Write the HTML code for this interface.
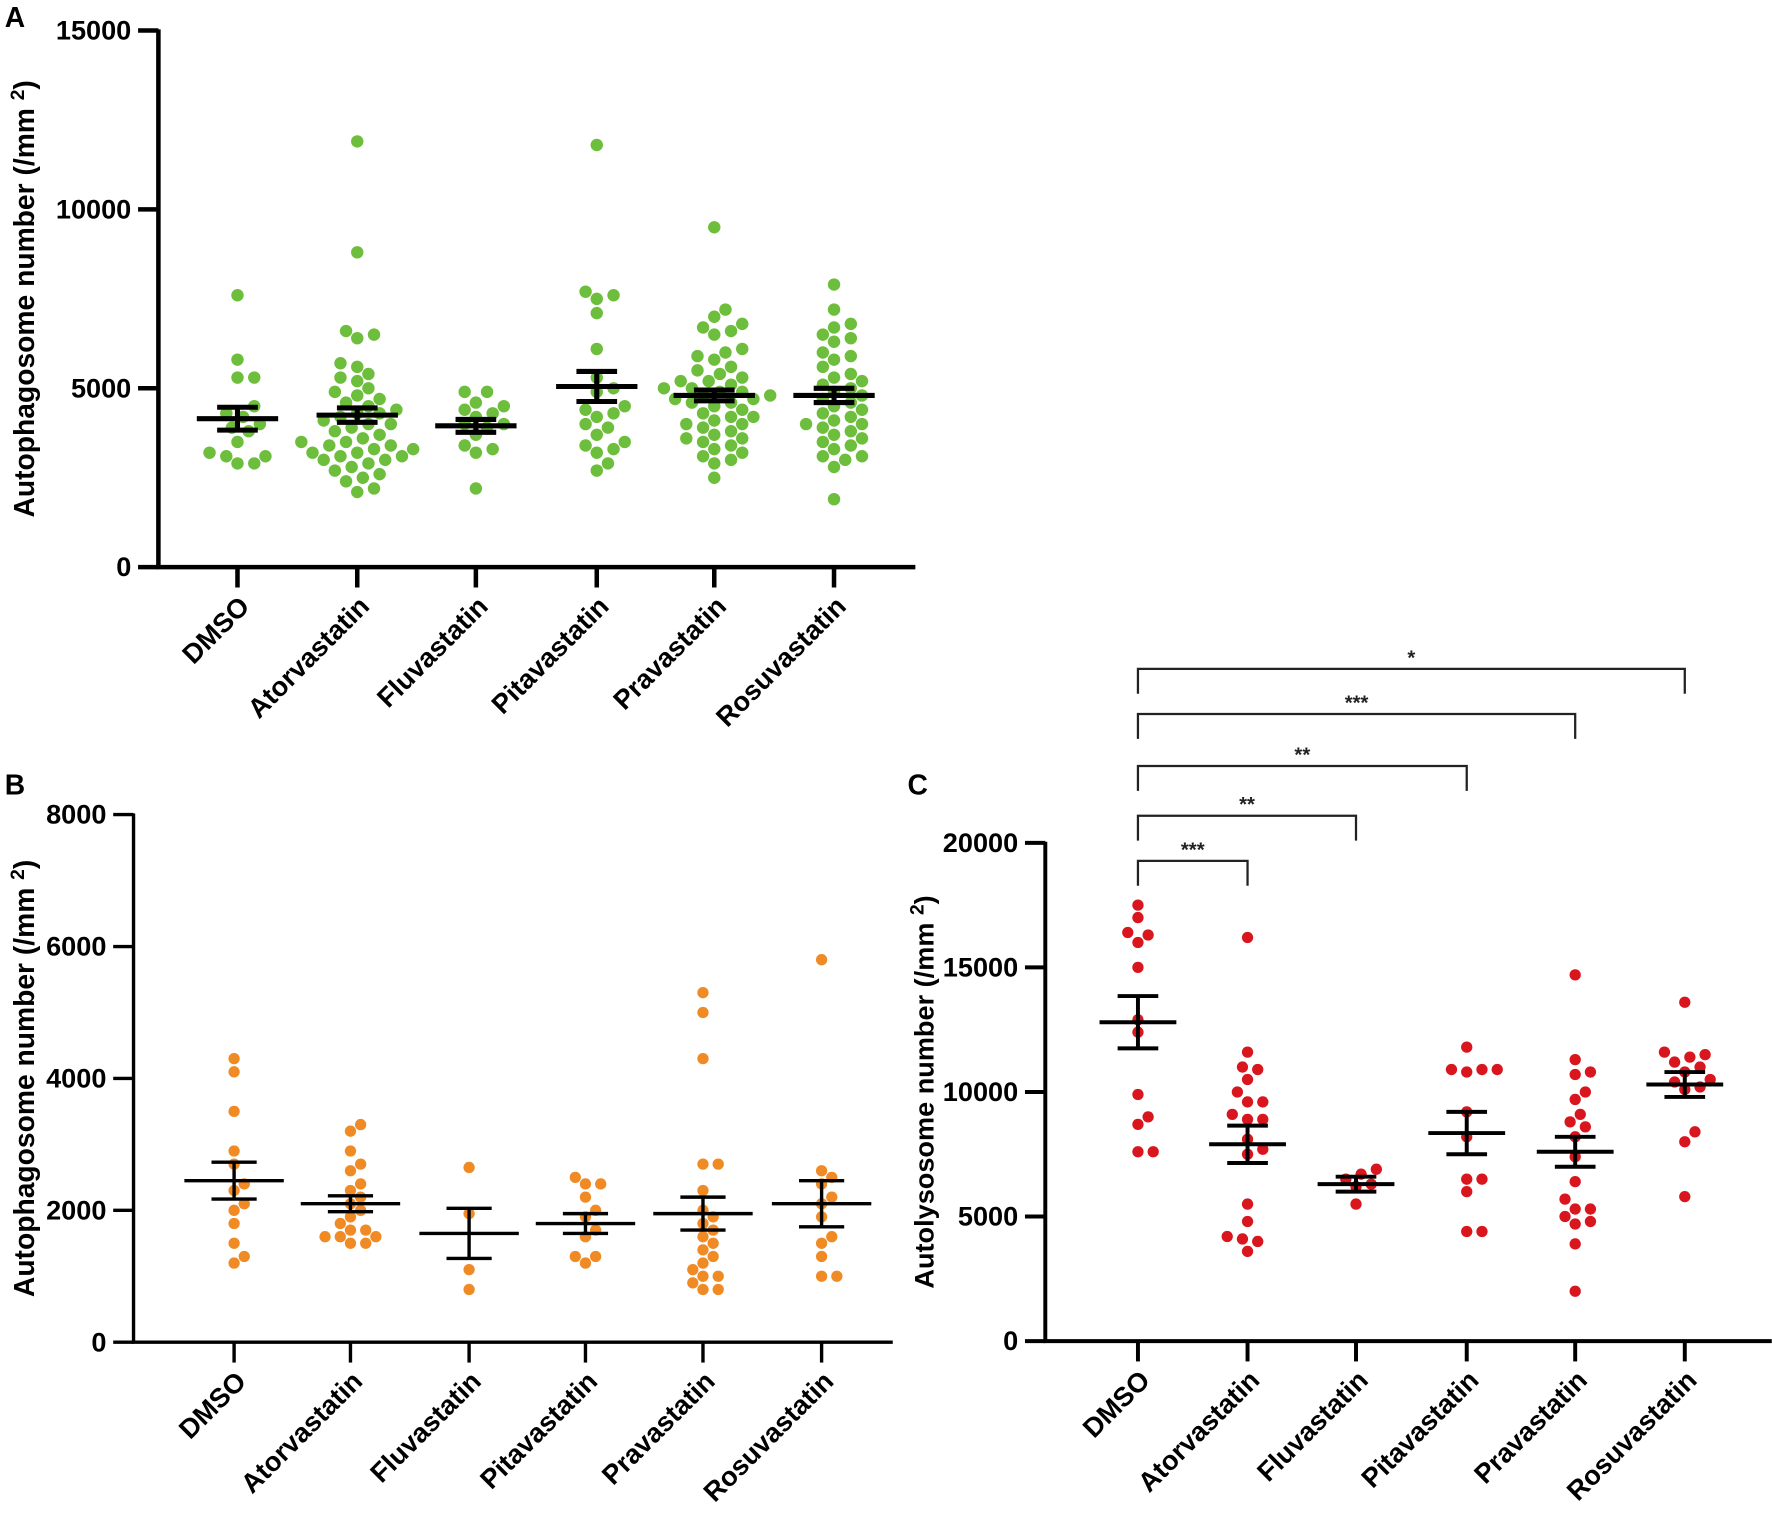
<!DOCTYPE html>
<html><head><meta charset="utf-8"><style>
html,body{margin:0;padding:0;background:#fff;}
svg{display:block;font-family:"Liberation Sans",Arial,sans-serif;font-weight:bold;}
</style></head><body>
<svg id="fig" width="1772" height="1523" viewBox="0 0 1568 1348" xmlns="http://www.w3.org/2000/svg"></svg>
<script>
const categories=["DMSO","Atorvastatin","Fluvastatin","Pitavastatin","Pravastatin","Rosuvastatin"];
// Panel A values
const aDMSO=[7600,5800,5300,5300,4500,4300,4200,4000,3900,3800,3500,3200,3100,3100,2900,2900];
const aAtor=[11900,8800,6600,6500,6400,5700,5600,5400,5300,5200,5000,4900,4800,4700,4600,4500,4400,4300,4300,4200,4100,4000,4000,3900,3800,3700,3600,3500,3500,3400,3400,3300,3300,3200,3200,3100,3100,3000,3000,2900,2800,2700,2600,2500,2400,2200,2100];
const aFluv=[4900,4900,4600,4500,4400,4300,4200,4000,4000,3900,3700,3400,3300,3200,2200];
const aPita=[11800,7700,7600,7500,7100,6100,5300,5000,4900,4500,4400,4300,4200,4000,3900,3700,3500,3400,3300,3200,2900,2700];
const aPrav=[9500,7200,7000,6800,6700,6600,6500,6100,6000,5900,5800,5600,5500,5400,5300,5200,5200,5100,5000,5000,4900,4900,4800,4800,4700,4700,4600,4600,4500,4400,4300,4200,4200,4100,4000,4000,3900,3800,3700,3600,3600,3500,3400,3300,3200,3100,3000,2900,2500];
const aRosu=[7900,7200,6800,6700,6500,6400,6300,6000,5900,5800,5600,5400,5300,5200,5100,5000,4900,4800,4700,4600,4500,4400,4300,4200,4100,4000,4000,3900,3800,3700,3600,3500,3400,3300,3100,3100,3000,2800,1900];
const aMean=[4150,4250,3950,5050,4800,4800];
const aSem=[320,200,180,420,150,200];
// Panel B values
const bDMSO=[4300,4100,3500,2900,2700,2400,2300,2100,2000,1800,1500,1300,1200];
const bAtor=[3300,3200,2900,2700,2600,2400,2300,2200,2100,2000,1900,1800,1700,1700,1600,1600,1600,1500,1500];
const bFluv=[2650,1950,1100,800];
const bPita=[2500,2400,2400,2200,2000,1900,1700,1600,1300,1300,1200];
const bPrav=[5300,5000,4300,2700,2700,2300,2000,1900,1800,1700,1600,1500,1400,1300,1200,1100,1000,1000,900,800,800];
const bRosu=[5800,2600,2500,2400,2200,2100,1900,1600,1500,1300,1000,1000];
const bMean=[2450,2100,1650,1800,1950,2100];
const bSem=[280,120,380,150,250,350];
// Panel C values
const cDMSO=[17500,17000,16400,16300,16000,15000,12900,12400,9900,9000,8700,7600,7600];
const cAtor=[16200,11600,11000,10900,10500,10000,9600,9600,9100,8900,8900,8100,7700,7500,5500,4800,4200,4100,4000,3600];
const cFluv=[6900,6700,6500,6300,6200,5500];
const cPita=[11800,10900,10900,10900,10800,9200,8200,6500,6500,6000,4400,4400];
const cPrav=[14700,11300,10800,10700,10000,9700,9100,8800,8600,8200,7400,6400,5700,5300,5300,5000,4800,4700,3900,2000];
const cRosu=[13600,11600,11500,11400,11200,11000,10800,10500,10400,10200,10100,8400,8000,5800];
const cMean=[12800,7900,6300,8350,7600,10300];
const cSem=[1050,750,300,850,600,500];
const sigLabels=["***","**","**","***","*"];
const sigTargets=[1,2,3,4,5];

const svg=document.getElementById('fig');
const NS="http://www.w3.org/2000/svg";
function mk(tag,attrs,parent){const e=document.createElementNS(NS,tag);for(const k in attrs)e.setAttribute(k,attrs[k]);(parent||svg).appendChild(e);return e;}

function panel(cfg){
  const g=mk('g',{});
  
  
  const y=v=>cfg.y0-(v/cfg.max)*(cfg.y0-cfg.yTop);
  const x=i=>cfg.xs[i];
  cfg.series.forEach((vals,i)=>{
    const placed=[];const r=cfg.r;const sorted=vals.slice().sort((a,b)=>a-b);
    sorted.forEach(v=>{
      const py=y(v);let best=0;
      for(let k=0;k<60;k++){
        const off=(k%2?1:-1)*Math.ceil(k/2)*r*0.9;
        if(placed.every(p=>Math.hypot(p[0]-off,p[1]-py)>=2*r+0.5)){best=off;break;}
      }
      placed.push([best,py]);
      const c=mk('circle',{cx:x(i)+best,cy:py,r:r,fill:cfg.color},g);
      
      
    });
  });
  cfg.series.forEach((v,i)=>{
    const m=cfg.mean[i],s=cfg.sem[i];
    const eb=mk('g',{stroke:'#000','stroke-width':cfg.ew,fill:'none'},g);
    
    
    mk('line',{x1:x(i)-cfg.mw,x2:x(i)+cfg.mw,y1:y(m),y2:y(m)},eb);
    mk('line',{x1:x(i)-cfg.cw,x2:x(i)+cfg.cw,y1:y(m+s),y2:y(m+s)},eb);
    mk('line',{x1:x(i)-cfg.cw,x2:x(i)+cfg.cw,y1:y(m-s),y2:y(m-s)},eb);
    mk('line',{x1:x(i),x2:x(i),y1:y(m+s),y2:y(m-s)},eb);
  });
  const ax=mk('g',{stroke:'#000','stroke-width':cfg.aw},g);
  
  
  mk('line',{x1:cfg.ax,x2:cfg.ax,y1:cfg.yTop-1,y2:cfg.y0},ax);
  mk('line',{x1:cfg.ax-cfg.aw/2,x2:cfg.xEnd,y1:cfg.y0,y2:cfg.y0},ax);
  cfg.ticks.forEach(t=>{
    mk('line',{x1:cfg.ax-18,x2:cfg.ax,y1:y(t),y2:y(t)},ax);
    const tt=mk('text',{x:cfg.ax-24,y:y(t)+8,'text-anchor':'end','font-size':24,fill:'#000'},g);
    tt.textContent=t;
    
    
  });
  categories.forEach((c,i)=>{
    mk('line',{x1:x(i),x2:x(i),y1:cfg.y0,y2:cfg.y0+18},ax);
    const t=mk('text',{x:x(i)+12,y:cfg.y0+36,'text-anchor':'end','font-size':24,fill:'#000',transform:`rotate(-45 ${x(i)+12} ${cfg.y0+36})`},g);
    t.textContent=c;
    
    
  });
  const ty=(cfg.y0+cfg.yTop)/2;
  const tl=mk('text',{x:cfg.tx,y:ty,'text-anchor':'middle','font-size':cfg.tf,fill:'#000',transform:`rotate(-90 ${cfg.tx} ${ty})`},g);
  tl.innerHTML=cfg.title+' (/mm <tspan dy="-9" font-size="17">2</tspan><tspan dy="9">)</tspan>';
  
  
  const pl=mk('text',{x:cfg.lx,y:cfg.ly,'font-size':25,fill:'#000'},g);
  pl.textContent=cfg.label;
  
  
  return {y,x,g};
}

panel({name:'panel-a',series:[aDMSO,aAtor,aFluv,aPita,aPrav,aRosu],mean:aMean,sem:aSem,color:'#6dbe3c',
  y0:502,yTop:27,max:15000,ax:140,xEnd:810,xs:[210,316,421,528,632,738],ticks:[0,5000,10000,15000],
  r:5.5,mw:36,cw:18,ew:4.5,aw:4,title:'Autophagosome number',tx:30,tf:25,label:'A',lx:4,ly:24});
panel({name:'panel-b',series:[bDMSO,bAtor,bFluv,bPita,bPrav,bRosu],mean:bMean,sem:bSem,color:'#f08a24',
  y0:1188,yTop:721,max:8000,ax:118,xEnd:790,xs:[207,310,415,518,622,727],ticks:[0,2000,4000,6000,8000],
  r:5,mw:44,cw:20,ew:3,aw:3,title:'Autophagosome number',tx:30,tf:25,label:'B',lx:4,ly:703});
const pc=panel({name:'panel-c',series:[cDMSO,cAtor,cFluv,cPita,cPrav,cRosu],mean:cMean,sem:cSem,color:'#d9151d',
  y0:1187,yTop:746,max:20000,ax:925,xEnd:1568,xs:[1007,1104,1200,1298,1394,1491],ticks:[0,5000,10000,15000,20000],
  r:5,mw:34,cw:18,ew:3.5,aw:3.5,title:'Autolysosome number',tx:826,tf:24,label:'C',lx:803,ly:703});
const levels=[762,722,678,632,592];
sigLabels.forEach((s,k)=>{
  const yy=levels[k],x1=pc.x(0),x2=pc.x(sigTargets[k]);
  const b=mk('g',{});
  
  
  mk('path',{d:`M${x1} ${yy+22}V${yy}H${x2}V${yy+22}`,stroke:'#222','stroke-width':2,fill:'none'},b);
  const t=mk('text',{x:(x1+x2)/2,y:yy-4,'text-anchor':'middle','font-size':18,fill:'#222'},b);
  t.textContent=s;
});
</script>
</body></html>
